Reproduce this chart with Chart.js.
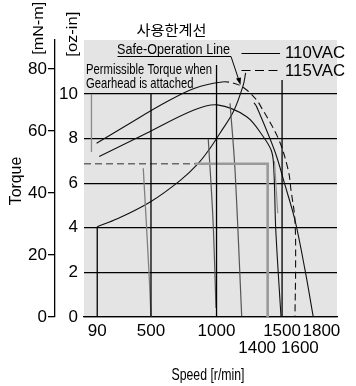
<!DOCTYPE html>
<html><head><meta charset="utf-8">
<script src="https://cdn.jsdelivr.net/npm/chart.js@4"></script>
<style>html,body{margin:0;padding:0;background:#fff;}canvas{display:block;}</style>
</head><body>
<canvas id="c" width="356" height="386"></canvas>
<script>
// ---- tick values ----
const speedTicks = [90, 500, 1000, 1400, 1500, 1600, 1800];
const ozTicks = [0, 2, 4, 6, 8, 10];
const mNmTicks = [0, 20, 40, 60, 80];

// ---- vertical reference lines (speed, top torque in oz-in) ----
const gridSpeeds = [500, 1000, 1500];
const gridTops = [10, 11.3, 10.63];

// ---- curves (speed r/min, torque oz-in) ----
const safeSpeed  = [90, 243, 497, 726, 861, 950, 1026, 1128, 1204, 1222];
const safeTorque = [4.05, 4.4, 5.17, 6.14, 6.89, 7.56, 8.24, 9.2, 10.4, 10.95];

const low110Speed  = [105, 462, 828, 1006, 1230, 1357, 1421, 1438, 1452, 1492];
const low110Torque = [7.2, 8.23, 9.28, 9.51, 8.98, 8.08, 7.41, 6.5, 3.9, 0];

const arch115Speed  = [85, 340, 599, 828, 1042, 1150, 1230, 1306, 1332, 1471, 1547, 1568, 1598, 1603, 1598];
const arch115Torque = [7.79, 8.69, 9.58, 10.25, 10.54, 10.45, 10.18, 9.73, 9.5, 8.01, 6.59, 5.69, 4.35, 2.11, 0];

const hi110Speed  = [1286, 1306, 1446, 1522, 1598, 1675, 1738];
const hi110Torque = [9.6, 9.43, 7.41, 5.92, 4.35, 2.11, 0];

const s500Speed  = [441, 484, 500];
const s500Torque = [6.67, 2.1, 0];
const s1000Speed  = [937, 973, 996];
const s1000Torque = [7.98, 4.35, 0.4];
const s1200Speed  = [1103, 1141, 1192];
const s1200Torque = [9.58, 6.59, 0.04];
const s1500Speed  = [1442, 1467];
const s1500Torque = [7.0, 4.65];
const s90GraySpeed  = [46, 46];
const s90GrayTorque = [10.0, 7.4];
const s90Speed  = [90, 90];
const s90Torque = [0, 4.05];

const permSpeed  = [-11, 836, 1390, 1390];
const permTorque = [6.87, 6.87, 6.87, 0];

const FONT = "'Liberation Sans', Arial, sans-serif";
const NARROW = "'Liberation Sans Narrow', 'Liberation Sans', Arial, sans-serif";

function pts(xs, ys) { return xs.map((x, i) => ({ x, y: ys[i] })); }
function line(data, color, width, extra) {
  return Object.assign({ data, borderColor: color, borderWidth: width, pointRadius: 0,
    fill: false, tension: 0.35, xAxisID: 'x', yAxisID: 'yOz' }, extra || {});
}

const datasets = [];
gridSpeeds.forEach((s, i) => datasets.push(line(pts([s, s], [0, gridTops[i]]), '#000', 1.3, { tension: 0 })));
datasets.push(line(pts(s90Speed, s90Torque), '#000', 1.3, { tension: 0 }));
datasets.push(line(pts(permSpeed, permTorque), '#9a9a9a', 2.6, { tension: 0,
  segment: {
    borderDash: c => c.p0DataIndex === 0 ? [7, 4] : undefined,
    borderColor: c => c.p0DataIndex === 0 ? '#6a6a6a' : undefined,
    borderWidth: c => c.p0DataIndex === 0 ? 1.6 : undefined
  } }));
datasets.push(line(pts(s90GraySpeed, s90GrayTorque), '#8a8a8a', 1.3, { tension: 0 }));
datasets.push(line(pts(s500Speed, s500Torque), '#808080', 1.3));
datasets.push(line(pts(s1000Speed, s1000Torque), '#555', 1.2));
datasets.push(line(pts(s1200Speed, s1200Torque), '#555', 1.2));
datasets.push(line(pts(s1500Speed, s1500Torque), '#909090', 1.2, { tension: 0 }));
datasets.push(line(pts(safeSpeed, safeTorque), '#111', 1.1));
datasets.push(line(pts(low110Speed, low110Torque), '#111', 1.1));
datasets.push(line(pts(hi110Speed, hi110Torque), '#111', 1.1));
datasets.push(line(pts(arch115Speed, arch115Torque), '#111', 1.1, {
  segment: { borderDash: c => c.p0.parsed.x >= 1000 ? [7, 4] : undefined } }));

function fitText(ctx, str, x, y, w, size, o) {
  o = o || {};
  ctx.save();
  ctx.font = size + 'px ' + (o.family || NARROW);
  ctx.fillStyle = '#000';
  ctx.textBaseline = o.baseline || 'alphabetic';
  ctx.textAlign = o.align || 'left';
  ctx.translate(x, y);
  if (o.rot) ctx.rotate(o.rot);
  const m = ctx.measureText(str).width;
  ctx.scale(w / m, 1);
  ctx.fillText(str, 0, 0);
  ctx.restore();
}

const annot = {
  id: 'annot',
  beforeDraw(chart) {
    const { ctx, chartArea: a } = chart;
    ctx.save();
    ctx.fillStyle = '#fff';
    ctx.fillRect(0, 0, chart.width, chart.height);
    ctx.fillStyle = '#e4e4e4';
    ctx.fillRect(a.left, a.top, a.right - a.left, a.bottom - a.top);
    ctx.restore();
  },
  afterDraw(chart) {
    const ctx = chart.ctx;
    fitText(ctx, '사용한계선', 136.5, 29.5, 70, 14, { family: "'Noto Sans CJK KR', sans-serif", baseline: 'middle' });
    fitText(ctx, 'Safe-Operation Line', 117, 53.5, 113, 15);
    fitText(ctx, 'Permissible Torque when', 86, 74, 126, 15);
    fitText(ctx, 'Gearhead is attached', 86, 88, 107.5, 15);
    ctx.save();
    ctx.strokeStyle = '#000'; ctx.lineWidth = 1;
    ctx.beginPath(); ctx.moveTo(117.5, 56.5); ctx.lineTo(231, 56.5); ctx.lineTo(238.5, 79); ctx.stroke();
    ctx.fillStyle = '#000';
    ctx.beginPath(); ctx.moveTo(240.5, 85); ctx.lineTo(236, 78.5); ctx.lineTo(241, 77.5); ctx.closePath(); ctx.fill();
    ctx.lineWidth = 1.2;
    ctx.beginPath(); ctx.moveTo(241.5, 53.5); ctx.lineTo(280, 53.5); ctx.stroke();
    ctx.setLineDash([9, 4.5]);
    ctx.beginPath(); ctx.moveTo(241.5, 70.5); ctx.lineTo(280, 70.5); ctx.stroke();
    ctx.setLineDash([]);
    ctx.restore();
    fitText(ctx, '110VAC', 285, 58.3, 60, 16, { family: FONT });
    fitText(ctx, '115VAC', 285, 75.5, 60, 16, { family: FONT });
    fitText(ctx, '[mN-m]', 43, 28.3, 53, 15, { family: FONT, align: 'center', rot: -Math.PI / 2 });
    fitText(ctx, '[oz-in]', 76.5, 34.2, 45, 15, { family: FONT, align: 'center', rot: -Math.PI / 2 });
    fitText(ctx, 'Torque', 20.5, 181, 48.5, 16, { family: FONT, align: 'center', rot: -Math.PI / 2 });
    fitText(ctx, 'Speed [r/min]', 171.5, 380, 73, 17);
  }
};

const tickFont = { family: FONT, size: 17, lineHeight: 1.0 };

new Chart(document.getElementById('c'), {
  type: 'line',
  data: { datasets },
  plugins: [annot],
  options: {
    responsive: false, animation: false, events: [],
    layout: { padding: { top: 40, right: 19, left: 0, bottom: 0 } },
    plugins: { legend: { display: false }, tooltip: { enabled: false } },
    scales: {
      x: {
        type: 'linear', position: 'bottom', min: -11, max: 1919,
        afterBuildTicks: s => { s.ticks = speedTicks.map(v => ({ value: v })); },
        afterFit: s => { s.height = 69; },
        grid: { display: false, drawTicks: false, tickLength: 0 },
        border: { display: true, color: '#000', width: 1.3 },
        ticks: {
          autoSkip: false, maxRotation: 0, minRotation: 0, padding: 6, color: '#000', font: tickFont,
          callback: v => {
            if (v === 1400) return ['', '1400     '];
            if (v === 1600) return ['', '  1600'];
            return String(v);
          }
        }
      },
      yOz: {
        type: 'linear', position: 'left', min: 0, max: 12.42, weight: 1,
        afterBuildTicks: s => { s.ticks = ozTicks.map(v => ({ value: v })); },
        afterFit: s => { s.width = 29; },
        grid: { color: '#000', lineWidth: 1.3, drawTicks: false, tickLength: 0 },
        border: { display: false },
        ticks: { padding: 6, color: '#000', font: { family: FONT, size: 17 } }
      },
      yMN: {
        type: 'linear', position: 'left', min: 0, max: 89.35, weight: 2,
        afterBuildTicks: s => { s.ticks = mNmTicks.map(v => ({ value: v })); },
        afterFit: s => { s.width = 55; },
        grid: { drawOnChartArea: false, drawTicks: true, tickLength: 7, color: '#000', lineWidth: 1.3 },
        border: { display: true, color: '#000', width: 1.3 },
        ticks: { padding: 1, color: '#000', font: { family: FONT, size: 17 } }
      }
    }
  }
});
</script>
</body></html>
